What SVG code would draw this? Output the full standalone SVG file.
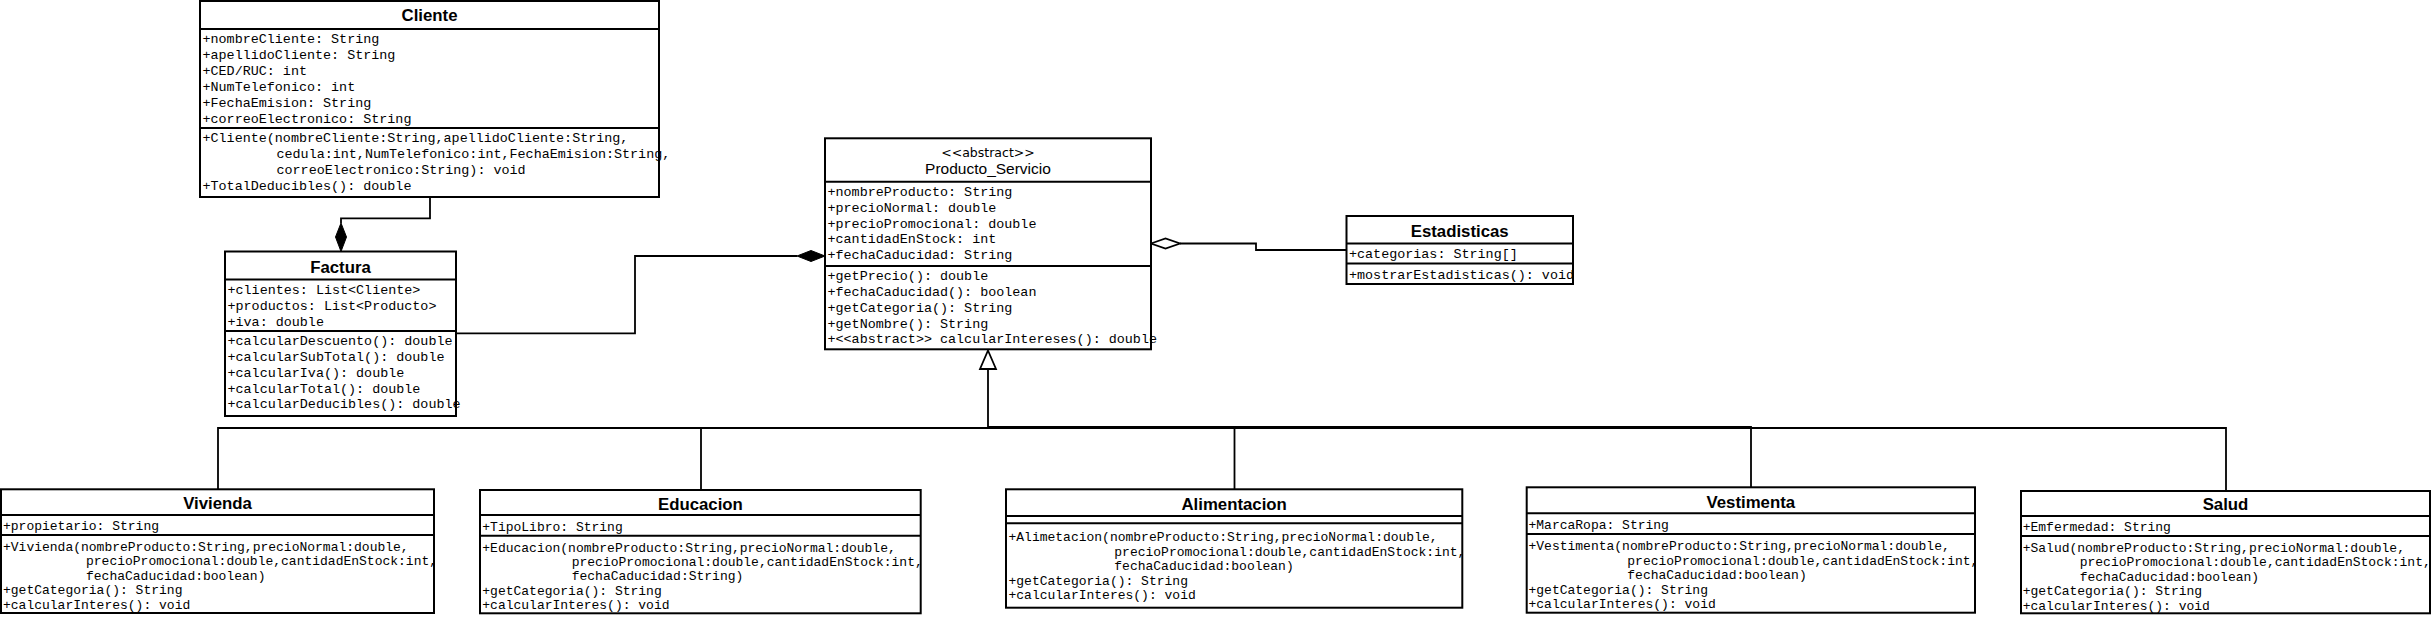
<svg xmlns="http://www.w3.org/2000/svg" width="2432" height="623" viewBox="0 0 2432 623">
<style>
.box{fill:#fff;stroke:#000;stroke-width:2}
.sep{stroke:#000;stroke-width:2;fill:none}
.t{font-family:"Liberation Sans",Arial,sans-serif;font-weight:bold;font-size:16.8px;text-anchor:middle;fill:#000}
.st{font-family:"DejaVu Sans",sans-serif;font-size:12.5px;text-anchor:middle;fill:#000}
.pt{font-family:"Liberation Sans",Arial,sans-serif;font-size:15.5px;text-anchor:middle;fill:#000}
.m{font-family:"Liberation Mono","Courier New",monospace;font-size:13.4px;fill:#000}
.mb{font-family:"Liberation Mono","Courier New",monospace;font-size:13px;fill:#000}
.conn{fill:none;stroke:#000;stroke-width:1.8}
.fd{fill:#000;stroke:#000;stroke-width:1}
.hd{fill:#fff;stroke:#000;stroke-width:1.8}
</style>
<defs>
<clipPath id="clipEst"><rect x="1346.5" y="216" width="226.5" height="68"/></clipPath>
<clipPath id="clipEdu"><rect x="480" y="490" width="440.7" height="124"/></clipPath>
<clipPath id="clipSal"><rect x="2021" y="491" width="409" height="123"/></clipPath>
</defs>
<rect width="2432" height="623" fill="#fff"/>

<g id="connectors">
  <path class="conn" d="M430,197 V218.3 H341 V223"/>
  <polygon class="fd" points="341,223 346.5,237 341,251.5 335.5,237"/>
  <path class="conn" d="M456,333.3 H635 V256 H797"/>
  <polygon class="fd" points="797,256 811,250.5 825,256 811,261.5"/>
  <path class="conn" d="M1180,243.5 H1256 V250 H1346.5"/>
  <polygon class="hd" points="1151,243.5 1165.5,238.5 1180,243.5 1165.5,248.5"/>
  <path class="conn" d="M218,489 V428 H988 V369"/>
  <path class="conn" d="M701,490 V428 H988"/>
  <path class="conn" d="M1234.5,489 V428 H988"/>
  <path class="conn" d="M1751,487 V427 H988"/>
  <path class="conn" d="M2226,491 V428 H988"/>
  <polygon class="hd" points="988,350.5 996,369 980,369"/>
</g>

<g id="Cliente">
  <rect class="box" x="200" y="1" width="459" height="196"/>
  <line class="sep" x1="200" y1="29" x2="659" y2="29"/>
  <line class="sep" x1="200" y1="128" x2="659" y2="128"/>
  <text class="t" x="429.5" y="20.5">Cliente</text>
  <text class="m" x="202.5" y="42.5">+nombreCliente: String</text>
  <text class="m" x="202.5" y="58.5">+apellidoCliente: String</text>
  <text class="m" x="202.5" y="74.5">+CED/RUC: int</text>
  <text class="m" x="202.5" y="90.5">+NumTelefonico: int</text>
  <text class="m" x="202.5" y="106.5">+FechaEmision: String</text>
  <text class="m" x="202.5" y="122.5">+correoElectronico: String</text>
  <text class="m" x="202.5" y="142">+Cliente(nombreCliente:String,apellidoCliente:String,</text>
  <text class="m" x="276.5" y="158">cedula:int,NumTelefonico:int,FechaEmision:String,</text>
  <text class="m" x="276.5" y="174">correoElectronico:String): void</text>
  <text class="m" x="202.5" y="190">+TotalDeducibles(): double</text>
</g>

<g id="Factura">
  <rect class="box" x="225" y="251.5" width="231" height="164.5"/>
  <line class="sep" x1="225" y1="279.5" x2="456" y2="279.5"/>
  <line class="sep" x1="225" y1="331" x2="456" y2="331"/>
  <text class="t" x="340.5" y="272.5">Factura</text>
  <text class="m" x="227.5" y="294">+clientes: List&lt;Cliente&gt;</text>
  <text class="m" x="227.5" y="310">+productos: List&lt;Producto&gt;</text>
  <text class="m" x="227.5" y="326">+iva: double</text>
  <text class="m" x="227.5" y="345">+calcularDescuento(): double</text>
  <text class="m" x="227.5" y="361">+calcularSubTotal(): double</text>
  <text class="m" x="227.5" y="376.5">+calcularIva(): double</text>
  <text class="m" x="227.5" y="392.5">+calcularTotal(): double</text>
  <text class="m" x="227.5" y="408">+calcularDeducibles(): double</text>
</g>

<g id="Producto_Servicio">
  <rect class="box" x="825" y="138.3" width="326" height="211"/>
  <line class="sep" x1="825" y1="181.7" x2="1151" y2="181.7"/>
  <line class="sep" x1="825" y1="266" x2="1151" y2="266"/>
  <text class="st" x="988" y="157">&lt;&lt;abstract&gt;&gt;</text>
  <text class="pt" x="988" y="174">Producto_Servicio</text>
  <text class="m" x="827.5" y="196">+nombreProducto: String</text>
  <text class="m" x="827.5" y="211.8">+precioNormal: double</text>
  <text class="m" x="827.5" y="227.6">+precioPromocional: double</text>
  <text class="m" x="827.5" y="243.4">+cantidadEnStock: int</text>
  <text class="m" x="827.5" y="259.2">+fechaCaducidad: String</text>
  <text class="m" x="827.5" y="280">+getPrecio(): double</text>
  <text class="m" x="827.5" y="296">+fechaCaducidad(): boolean</text>
  <text class="m" x="827.5" y="311.5">+getCategoria(): String</text>
  <text class="m" x="827.5" y="327.5">+getNombre(): String</text>
  <text class="m" x="827.5" y="343">+&lt;&lt;abstract&gt;&gt; calcularIntereses(): double</text>
</g>

<g id="Estadisticas">
  <rect class="box" x="1346.5" y="216" width="226.5" height="68"/>
  <line class="sep" x1="1346.5" y1="243.5" x2="1573" y2="243.5"/>
  <line class="sep" x1="1346.5" y1="263.5" x2="1573" y2="263.5"/>
  <text class="t" x="1459.7" y="236.5">Estadisticas</text>
  <g clip-path="url(#clipEst)">
    <text class="m" x="1349" y="258">+categorias: String[]</text>
    <text class="m" x="1349" y="278.5">+mostrarEstadisticas(): void</text>
  </g>
</g>

<g id="Vivienda">
  <rect class="box" x="1" y="489.3" width="433" height="123.7"/>
  <line class="sep" x1="1" y1="515" x2="434" y2="515"/>
  <line class="sep" x1="1" y1="535" x2="434" y2="535"/>
  <text class="t" x="217.5" y="509">Vivienda</text>
  <text class="mb" x="3" y="529.5">+propietario: String</text>
  <text class="mb" x="3" y="551">+Vivienda(nombreProducto:String,precioNormal:double,</text>
  <text class="mb" x="86" y="565.4">precioPromocional:double,cantidadEnStock:int,</text>
  <text class="mb" x="86" y="579.8">fechaCaducidad:boolean)</text>
  <text class="mb" x="3" y="594.2">+getCategoria(): String</text>
  <text class="mb" x="3" y="608.6">+calcularInteres(): void</text>
</g>

<g id="Educacion">
  <rect class="box" x="480" y="490" width="440.7" height="123.3"/>
  <line class="sep" x1="480" y1="515" x2="920.7" y2="515"/>
  <line class="sep" x1="480" y1="535.7" x2="920.7" y2="535.7"/>
  <text class="t" x="700.4" y="509.5">Educacion</text>
  <g clip-path="url(#clipEdu)">
    <text class="mb" x="482.3" y="530.5">+TipoLibro: String</text>
    <text class="mb" x="482.3" y="551.5">+Educacion(nombreProducto:String,precioNormal:double,</text>
    <text class="mb" x="571.7" y="565.9">precioPromocional:double,cantidadEnStock:int,</text>
    <text class="mb" x="571.7" y="580.3">fechaCaducidad:String)</text>
    <text class="mb" x="482.3" y="594.7">+getCategoria(): String</text>
    <text class="mb" x="482.3" y="609.1">+calcularInteres(): void</text>
  </g>
</g>

<g id="Alimentacion">
  <rect class="box" x="1006" y="489.3" width="456.3" height="118.4"/>
  <line class="sep" x1="1006" y1="516" x2="1462.3" y2="516"/>
  <line class="sep" x1="1006" y1="523.3" x2="1462.3" y2="523.3"/>
  <text class="t" x="1234.2" y="509.5">Alimentacion</text>
  <text class="mb" x="1008.5" y="541">+Alimetacion(nombreProducto:String,precioNormal:double,</text>
  <text class="mb" x="1114.3" y="555.5">precioPromocional:double,cantidadEnStock:int,</text>
  <text class="mb" x="1114.3" y="570">fechaCaducidad:boolean)</text>
  <text class="mb" x="1008.5" y="584.5">+getCategoria(): String</text>
  <text class="mb" x="1008.5" y="599">+calcularInteres(): void</text>
</g>

<g id="Vestimenta">
  <rect class="box" x="1526.7" y="487.3" width="448.3" height="125.4"/>
  <line class="sep" x1="1526.7" y1="513.3" x2="1975" y2="513.3"/>
  <line class="sep" x1="1526.7" y1="534" x2="1975" y2="534"/>
  <text class="t" x="1750.8" y="507.5">Vestimenta</text>
  <text class="mb" x="1528.5" y="529">+MarcaRopa: String</text>
  <text class="mb" x="1528.5" y="550">+Vestimenta(nombreProducto:String,precioNormal:double,</text>
  <text class="mb" x="1627.3" y="564.5">precioPromocional:double,cantidadEnStock:int,</text>
  <text class="mb" x="1627.3" y="579">fechaCaducidad:boolean)</text>
  <text class="mb" x="1528.5" y="593.5">+getCategoria(): String</text>
  <text class="mb" x="1528.5" y="608">+calcularInteres(): void</text>
</g>

<g id="Salud">
  <rect class="box" x="2021" y="491" width="409" height="122.3"/>
  <line class="sep" x1="2021" y1="516" x2="2430" y2="516"/>
  <line class="sep" x1="2021" y1="536" x2="2430" y2="536"/>
  <text class="t" x="2225.5" y="509.5">Salud</text>
  <g clip-path="url(#clipSal)">
    <text class="mb" x="2022.7" y="531">+Emfermedad: String</text>
    <text class="mb" x="2022.7" y="551.5">+Salud(nombreProducto:String,precioNormal:double,</text>
    <text class="mb" x="2079.7" y="566">precioPromocional:double,cantidadEnStock:int,</text>
    <text class="mb" x="2079.7" y="580.5">fechaCaducidad:boolean)</text>
    <text class="mb" x="2022.7" y="595">+getCategoria(): String</text>
    <text class="mb" x="2022.7" y="609.5">+calcularInteres(): void</text>
  </g>
</g>
</svg>
